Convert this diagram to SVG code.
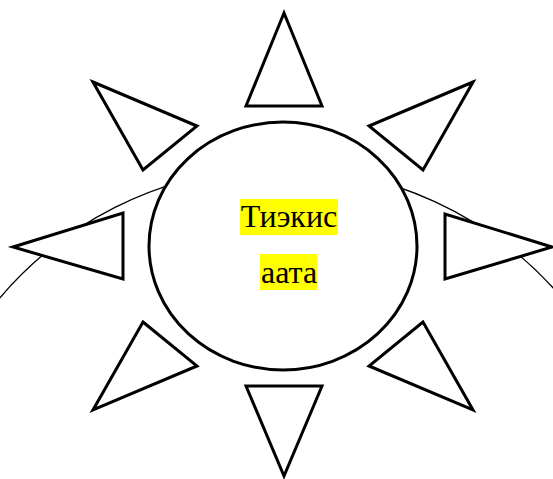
<svg xmlns="http://www.w3.org/2000/svg" width="553" height="479" viewBox="0 0 553 479">
<style>
.ray{fill:#fff;stroke:#000;stroke-width:3;stroke-linejoin:miter}
.arc{fill:none;stroke:#000;stroke-width:1.3}
.hl{fill:#ffff00}
.t{font-family:"Liberation Serif","Times New Roman",serif;font-size:32px;fill:#000;text-anchor:middle}
</style>
<rect width="553" height="479" fill="#fff"/>
<g id="connectors">
<path class="arc" d="M -2 300 A 369 369 0 0 1 555 290"/>
</g>
<g id="ray-top"><polygon class="ray" points="284,13 246,106 322,106"/></g>
<g id="ray-bottom"><polygon class="ray" points="246,386 322,386 284,476"/></g>
<g id="ray-left"><polygon class="ray" points="13,247 123,213 123,279"/></g>
<g id="ray-right"><polygon class="ray" points="552,247 445,214 445,279"/></g>
<g id="ray-top-left"><polygon class="ray" points="93,82 197,126 143,170"/></g>
<g id="ray-top-right"><polygon class="ray" points="473,82 369,126 423,170"/></g>
<g id="ray-bottom-left"><polygon class="ray" points="143,322 197,366 93,410"/></g>
<g id="ray-bottom-right"><polygon class="ray" points="423,322 369,366 473,410"/></g>
<g id="sun">
<ellipse cx="283" cy="246" rx="134" ry="124" fill="#fff" stroke="#000" stroke-width="3"/>
<rect class="hl" x="240" y="199" width="98" height="36"/>
<rect class="hl" x="260" y="254" width="57" height="36"/>
<text class="t" x="289" y="227">Тиэкис</text>
<text class="t" x="289" y="283">аата</text>
</g>
</svg>
